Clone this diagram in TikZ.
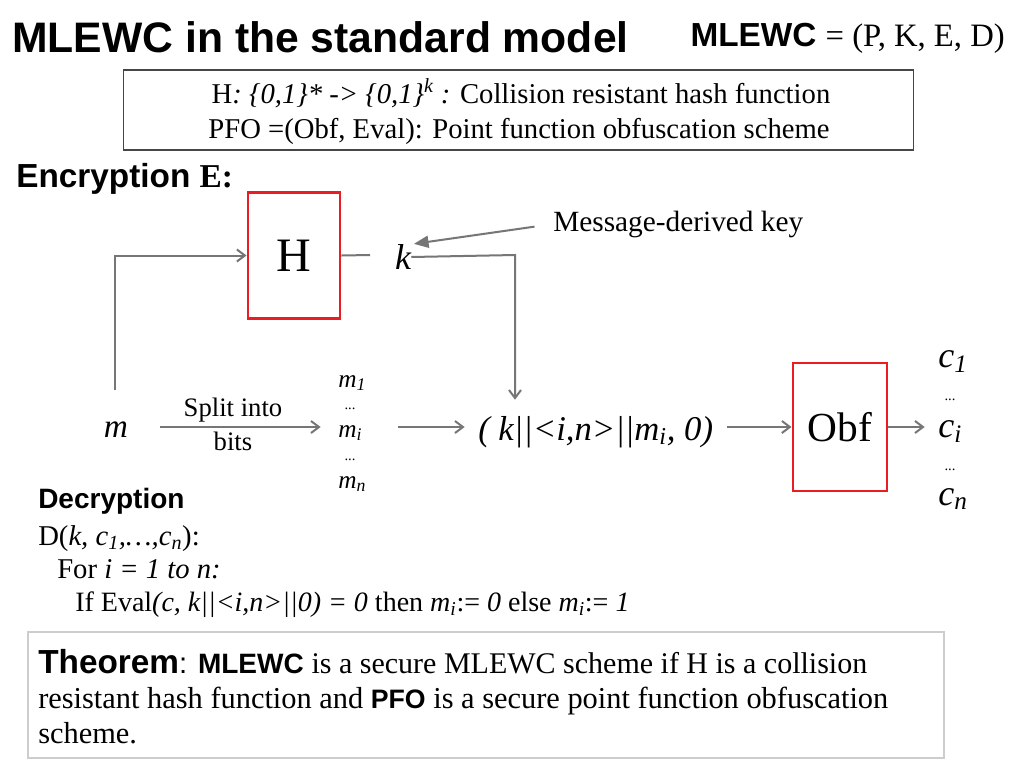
\documentclass[tikz,border=0pt]{standalone}
\usepackage{fontspec}
\setmainfont{Liberation Serif}
\newfontfamily\arialf{Liberation Sans}
\usetikzlibrary{arrows.meta}
\newcommand\fs[1]{\fontsize{#1}{#1}\selectfont}
\definecolor{arrgray}{RGB}{118,118,118}
\definecolor{boxred}{RGB}{236,28,36}
\definecolor{boxgray}{RGB}{70,70,70}
\definecolor{lightbox}{RGB}{205,205,205}
\begin{document}
\begin{tikzpicture}[x=0.75pt,y=-0.75pt,
  txt/.style={inner sep=0pt},
  lefttxt/.style={inner sep=0pt, anchor=base west},
  redbox/.style={draw=boxred, line width=2.2pt, inner sep=0pt},
  conn/.style={draw=arrgray, line width=1.5pt},
  arr/.style={conn, -{Straight Barb[length=6pt,width=9pt,line width=1.5pt]}},
  ptr/.style={conn, -{Triangle[length=11pt,width=9pt]}, arrgray}]
\useasboundingbox (0,0) rectangle (1024,768);
\fill[white] (0,0) rectangle (1024,768);

% title
\node[lefttxt, font=\arialf\bfseries\fs{32}] (title) at (12,52) {MLEWC in the standard model};
\node[txt, anchor=base east] (scheme) at (1005,46) {{\arialf\bfseries\fs{25}MLEWC }{\fs{24.5}= (P, K, E, D)}};

% definitions box
\node[draw=boxgray, line width=0.8pt, minimum width=593pt, minimum height=60pt, inner sep=0pt] (defs) at (518.5,110) {};
\node[txt, anchor=base, font=\fs{21.5}] (def1) at (521,103) {H\textit{: \{0,1\}* -> \{0,1\}\textsuperscript{k} :} Collision resistant hash function};
\node[txt, anchor=base, font=\fs{21.5}] (def2) at (519,138) {PFO =(Obf, Eval): Point function obfuscation scheme};

% encryption
\node[lefttxt] (enc) at (16,187) {{\arialf\bfseries\fs{25}Encryption }{\bfseries\fs{25}E:}};

\node[redbox, minimum width=69pt, minimum height=95pt, font=\fs{36}] (H) at (294,255.5) {H};
\node[txt, font=\itshape\fs{27}] (k) at (403,257) {k};
\node[lefttxt, font=\fs{22}] (msg) at (553,231) {Message-derived key};

\node[txt, font=\itshape\fs{25}] (m) at (116,430) {m};
\node[txt, font=\fs{20}] (split1) at (233,410) {Split into};
\node[txt, font=\fs{20}] (split2) at (233,441) {bits};

\node[lefttxt, font=\itshape\fs{19}] (m1) at (338,387) {m\textsubscript{1}};
\node[txt, font=\fs{11}] (dm1) at (350,409) {...};
\node[lefttxt, font=\itshape\fs{19}] (mi) at (338,437) {m\textsubscript{i}};
\node[txt, font=\fs{11}] (dm2) at (350,460) {...};
\node[lefttxt, font=\itshape\fs{19}] (mn) at (338,488) {m\textsubscript{n}};

\node[lefttxt, font=\itshape\fs{26}] (tup) at (478,440) {( k||<i,n>||m\textsubscript{i}, 0)};

\node[redbox, minimum width=70.5pt, minimum height=96pt, font=\fs{31}] (obf) at (840,427) {Obf};

\node[lefttxt, font=\itshape\fs{27}] (c1) at (938,367) {c\textsubscript{1}};
\node[txt, font=\fs{11}] (dc1) at (950,400) {...};
\node[lefttxt, font=\itshape\fs{27}] (ci) at (938,437) {c\textsubscript{i}};
\node[txt, font=\fs{11}] (dc2) at (950,470) {...};
\node[lefttxt, font=\itshape\fs{27}] (cn) at (938,505) {c\textsubscript{n}};

% connectors
\coordinate (kL) at (370,255);
\coordinate (kc) at (515,255);
\coordinate (mtop) at (115,390);
\draw[conn] (H.east) -- (kL);
\draw[arr, shorten >=12pt] (k.east) -- (kc) -- (kc |- tup.north);
\draw[arr] (mtop) |- (H.west);
\draw[arr, shorten <=24pt, shorten >=13pt] (m.east |- obf.west) -- (mi.west |- obf.west);
\draw[arr, shorten <=27pt, shorten >=10pt] (mi.east |- obf.west) -- (tup.west |- obf.west);
\draw[arr, shorten <=10pt] (tup.east |- obf.west) -- (obf.west);
\draw[arr, shorten >=10pt] (obf.east) -- (ci.west |- obf.east);
\draw[ptr, shorten <=14pt, shorten >=2pt] (msg.west) -- (k.north east);

% decryption
\node[lefttxt, font=\arialf\bfseries\fs{21}] (dec) at (38,508) {Decryption};
\node[lefttxt, font=\fs{21.5}] (d1) at (38,545) {D(\textit{k, c\textsubscript{1},…,c\textsubscript{n}}):};
\node[lefttxt, font=\fs{21.5}] (d2) at (57,578) {For \textit{i = 1 to n:}};
\node[lefttxt, font=\fs{21}] (d3) at (75,611) {If Eval\textit{(c, k||<i,n>||0) = 0} then \textit{m\textsubscript{i}}:= \textit{0} else \textit{m\textsubscript{i}}:= \textit{1}};

% theorem
\node[draw=lightbox, line width=1pt, minimum width=687pt, minimum height=94.5pt, inner sep=0pt] (thm) at (486,695) {};
\node[lefttxt, font=\fs{22.5}] (t1) at (38,673) {{\arialf\bfseries\fs{25}Theorem}{\arialf\fs{22}: }{\arialf\bfseries\fs{21}MLEWC }is a secure MLEWC scheme if H is a collision};
\node[lefttxt, font=\fs{22.8}] (t2) at (38,708) {resistant hash function and {\arialf\bfseries\fs{20}PFO} is a secure point function obfuscation};
\node[lefttxt, font=\fs{22.8}] (t3) at (38,743) {scheme.};
\end{tikzpicture}
\end{document}
